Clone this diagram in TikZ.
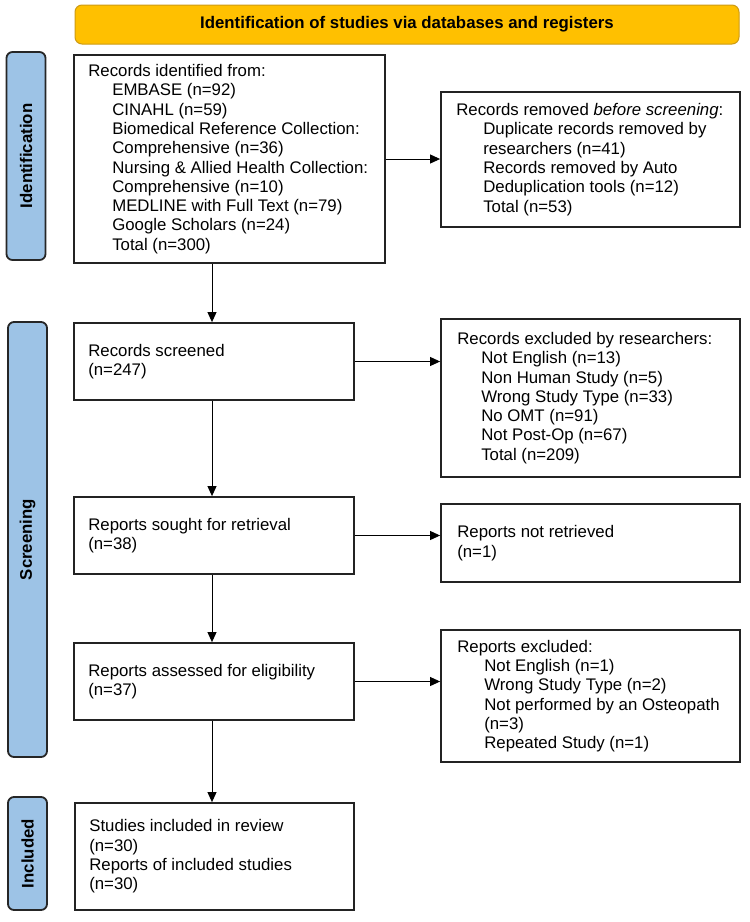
\documentclass[tikz,border=0pt]{standalone}
\usepackage{fontspec}
\setmainfont{Liberation Sans}
\usetikzlibrary{arrows.meta}
\definecolor{hdrfill}{RGB}{255,192,0}
\definecolor{hdrdraw}{RGB}{205,155,20}
\definecolor{sidefill}{RGB}{157,195,230}
\definecolor{boxdraw}{RGB}{35,35,35}
\begin{document}
\begin{tikzpicture}[x=1pt,y=-1pt,
  box/.style={draw=boxdraw, line width=1.8pt, inner sep=0pt, fill=white},
  txt/.style={align=left, inner sep=0pt, font=\fontsize{16.8}{19.3}\selectfont, anchor=west},
  side/.style={draw=black!85, fill=sidefill, line width=1.8pt, rounded corners=6pt, inner sep=0pt,
    font=\bfseries\fontsize{16.8}{19}\selectfont},
  arr/.style={-{Triangle[length=10pt,width=9pt]}, line width=0.9pt, black},
]
\useasboundingbox (0,0) rectangle (750,922);
\fill[white] (0,0) rectangle (750,922);

% header
\node[draw=hdrdraw, fill=hdrfill, rounded corners=7pt, line width=1pt,
  minimum width=664pt, minimum height=39pt, inner sep=0pt,
  font=\bfseries\fontsize{16.8}{19}\selectfont] (hdr) at (407,24.5)
  {Identification of studies via databases and registers};

% side labels
\node[side, rotate=90, minimum width=208pt, minimum height=39pt] (lid) at (26,156) {Identification};
\node[side, rotate=90, minimum width=435pt, minimum height=39pt] (lsc) at (27.5,539.5) {Screening};
\node[side, rotate=90, minimum width=113pt, minimum height=39pt] (lin) at (27.5,853.5) {Included};

% boxes
\node[box, minimum width=311pt, minimum height=208pt] (b1) at (229.5,159) {};
\node[box, minimum width=299pt, minimum height=135pt] (rem) at (590.5,159.5) {};
\node[box, minimum width=280pt, minimum height=77pt] (scr) at (214,361.5) {};
\node[box, minimum width=299pt, minimum height=158pt] (exc) at (590.5,398) {};
\node[box, minimum width=280pt, minimum height=77pt] (sou) at (214,535.5) {};
\node[box, minimum width=299pt, minimum height=78pt] (nre) at (590.5,543) {};
\node[box, minimum width=280pt, minimum height=77pt] (ass) at (214,681.5) {};
\node[box, minimum width=299pt, minimum height=132pt] (rex) at (590.5,696) {};
\node[box, minimum width=279pt, minimum height=107pt] (inc) at (214.5,856.5) {};

% texts
\node[txt] (b1t) at ([xshift=15pt]b1.west) {Records identified from:\\
\hspace*{24pt}EMBASE (n=92)\\
\hspace*{24pt}CINAHL (n=59)\\
\hspace*{24pt}Biomedical Reference Collection:\\
\hspace*{24pt}Comprehensive (n=36)\\
\hspace*{24pt}Nursing \& Allied Health Collection:\\
\hspace*{24pt}Comprehensive (n=10)\\
\hspace*{24pt}MEDLINE with Full Text (n=79)\\
\hspace*{24pt}Google Scholars (n=24)\\
\hspace*{24pt}Total (n=300)};

\node[txt] (remt) at ([xshift=16pt]rem.west) {Records removed \textit{before screening}:\\
\hspace*{27pt}Duplicate records removed by\\
\hspace*{27pt}researchers (n=41)\\
\hspace*{27pt}Records removed by Auto\\
\hspace*{27pt}Deduplication tools (n=12)\\
\hspace*{27pt}Total (n=53)};

\node[txt] (scrt) at ([xshift=15pt]scr.west) {Records screened\\(n=247)};

\node[txt] (exct) at ([xshift=17pt]exc.west) {Records excluded by researchers:\\
\hspace*{24pt}Not English (n=13)\\
\hspace*{24pt}Non Human Study (n=5)\\
\hspace*{24pt}Wrong Study Type (n=33)\\
\hspace*{24pt}No OMT (n=91)\\
\hspace*{24pt}Not Post-Op (n=67)\\
\hspace*{24pt}Total (n=209)};

\node[txt] (sout) at ([xshift=15pt]sou.west) {Reports sought for retrieval\\(n=38)};
\node[txt] (nret) at ([xshift=17pt]nre.west) {Reports not retrieved\\(n=1)};
\node[txt] (asst) at ([xshift=15pt]ass.west) {Reports assessed for eligibility\\(n=37)};

\node[txt] (rext) at ([xshift=17pt]rex.west) {Reports excluded:\\
\hspace*{27pt}Not English (n=1)\\
\hspace*{27pt}Wrong Study Type (n=2)\\
\hspace*{27pt}Not performed by an Osteopath\\
\hspace*{27pt}(n=3)\\
\hspace*{27pt}Repeated Study (n=1)};

\node[txt] (inct) at ([xshift=15pt]inc.west) {Studies included in review\\(n=30)\\Reports of included studies\\(n=30)};

% connectors
\coordinate (ax) at (212,0);
\draw[arr] (b1.south -| ax) -- (scr.north -| ax);
\draw[arr] (scr.south -| ax) -- (sou.north -| ax);
\draw[arr] (sou.south -| ax) -- (ass.north -| ax);
\draw[arr] (ass.south -| ax) -- (inc.north -| ax);
\draw[arr] (b1.east) -- (rem.west |- b1.east);
\draw[arr] (scr.east) -- (exc.west |- scr.east);
\draw[arr] (sou.east) -- (nre.west |- sou.east);
\draw[arr] (ass.east) -- (rex.west |- ass.east);
\end{tikzpicture}
\end{document}
